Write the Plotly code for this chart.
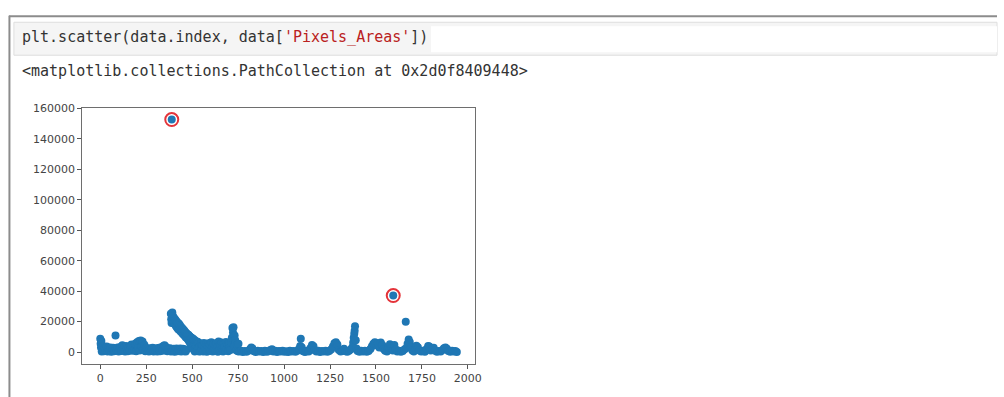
import plotly.graph_objects as go

# ---- Pixels_Areas by row index, split into stretches of the index ----
base_a_idx = [0, 2, 4, 6, 8, 12, 16, 20, 25, 30, 35, 40, 45, 50, 55, 60, 65, 70, 75, 83,
              85, 90, 95, 100, 105, 110, 115, 120, 125, 130, 135, 140, 145, 150, 155, 160,
              165, 170, 175, 180, 185, 190, 195, 200, 205, 210, 215, 220, 225, 230, 235,
              240, 245, 250, 255, 260, 265, 270, 275, 280, 285, 290, 295, 300, 305, 310,
              315, 320, 325, 330, 335, 340, 345, 350, 355, 360, 365, 370, 375, 380, 385,
              390, 395, 400, 405, 410, 415, 420, 425, 430, 435, 440, 445, 450, 455, 460,
              465, 468]
base_a_val = [8800, 5500, 3000, 7200, 300, 2400, 3800, 600, 2800, 1200, 3600, 400, 2500,
              900, 3000, 200, 2200, 2800, 500, 10900, 2400, 800, 3000, 300, 2100, 3400,
              700, 4400, 1200, 2800, 400, 4000, 2300, 600, 2900, 1000, 4200, 5000, 800,
              3200, 1300, 5400, 600, 6400, 2600, 7200, 1000, 7600, 3600, 7000, 1500, 4800,
              500, 2600, 900, 2200, 300, 2500, 700, 1900, 2800, 400, 2100, 800, 2500, 300,
              2000, 2900, 600, 2300, 3400, 900, 4200, 4500, 1200, 3200, 500, 2100, 800,
              2500, 300, 2000, 700, 2200, 200, 1800, 2400, 500, 1900, 800, 2300, 300, 1700,
              2100, 600, 1800, 400, 1400]

curve_idx = [384, 386, 388, 390, 392, 394, 397, 400, 403, 406, 409, 412, 415, 418, 421,
             424, 427, 430, 433, 436, 439, 442, 445, 448, 451, 454, 457, 460, 463, 466,
             469, 472, 475, 478, 481, 484, 487, 490, 493, 496, 499, 502, 505, 508, 511,
             514, 517, 520, 523, 526, 529, 532, 535, 538]
curve_val = [25200, 21500, 19000, 24200, 25900, 20200, 23400, 19400, 22200, 18200, 21200,
             17000, 20200, 16000, 19300, 15000, 18700, 14500, 17700, 13600, 16700, 13000,
             15800, 12000, 15000, 11300, 14200, 10500, 13200, 9600, 12400, 9000, 11700,
             8000, 11200, 7000, 10400, 5800, 9700, 4400, 9200, 3000, 8700, 1600, 8000, 400,
             7400, 3600, 7000, 900, 6700, 2300, 6300, 300]

band_idx = [540, 544, 548, 552, 556, 560, 564, 568, 572, 576, 580, 584, 588, 592, 596,
            600, 604, 608, 612, 616, 620, 624, 628, 632, 636, 640, 644, 648, 652, 656,
            660, 664, 668, 672, 676, 680, 684, 688, 692, 696, 700, 704, 708, 712, 716,
            719, 722, 725, 728, 731, 734, 737, 740, 744, 748, 752]
band_val = [3500, 600, 5600, 1800, 4600, 300, 6000, 2600, 1000, 5200, 200, 4200, 5800,
            1500, 4800, 700, 6400, 2800, 300, 5400, 1900, 4400, 800, 6000, 3000, 200, 6900,
            1400, 5000, 700, 6200, 2300, 400, 5600, 3400, 1100, 6600, 2000, 5100, 500, 5900,
            2900, 1300, 6500, 9400, 15800, 12800, 16300, 3800, 10800, 7800, 6000, 1200,
            4700, 600, 5400]

base_b_idx = [756, 766, 776, 786, 796, 806, 816, 822, 828, 836, 846, 856, 866, 876, 886,
              896, 906, 916, 926, 934, 942, 952, 962, 972, 982, 992, 1002, 1012, 1022,
              1032, 1042, 1052, 1062, 1072, 1082, 1088, 1091, 1096, 1104, 1114, 1124, 1134,
              1144, 1152, 1160, 1166, 1176, 1186, 1196, 1206, 1216, 1226, 1236, 1246, 1256,
              1266, 1274, 1282, 1290, 1298, 1308, 1318, 1326, 1334, 1344, 1354, 1364, 1372,
              1376, 1379, 1382, 1384, 1386, 1390, 1394, 1400, 1410, 1420, 1430, 1440, 1450,
              1460, 1470, 1478, 1486, 1494, 1502, 1510, 1518, 1526, 1534, 1542, 1550, 1560,
              1568, 1576, 1584, 1592, 1600, 1608, 1616, 1626, 1636, 1646, 1656, 1662, 1666,
              1672, 1678, 1684, 1690, 1698, 1706, 1714, 1720, 1728, 1736, 1746, 1756, 1766,
              1776, 1784, 1790, 1798, 1806, 1814, 1822, 1832, 1842, 1852, 1862, 1870, 1878,
              1886, 1894, 1904, 1914, 1924, 1932, 1940]
base_b_val = [300, 800, 100, 700, 200, 900, 2000, 3000, 2400, 600, 100, 800, 300, 700, 100,
              900, 200, 600, 1400, 1900, 300, 800, 100, 700, 300, 900, 200, 600, 100, 800,
              300, 700, 200, 900, 2200, 4000, 8700, 3200, 600, 100, 800, 300, 2700, 4600,
              3800, 1200, 300, 800, 100, 700, 300, 900, 200, 700, 1700, 3600, 5800, 6500,
              5000, 1400, 300, 900, 2200, 600, 200, 800, 1800, 3200, 6200, 9400, 12000,
              14000, 17000, 7700, 2400, 700, 200, 800, 300, 900, 200, 700, 2000, 3800, 5400,
              6500, 4400, 5800, 3000, 6200, 4700, 2000, 800, 300, 3200, 5100, 2400, 1000,
              4600, 1700, 300, 900, 200, 700, 1800, 19850, 2700, 5400, 8200, 6600, 3200,
              1100, 300, 2100, 4100, 3200, 1000, 300, 800, 200, 2000, 4000, 3600, 1100, 2200,
              2900, 900, 200, 700, 300, 1400, 2500, 3000, 2200, 700, 200, 800, 300, 700, 100]

# the two extreme rows, ringed in red
outlier_idx = [389, 1594]
outlier_val = [152700, 37100]

x_ticks = [0, 250, 500, 750, 1000, 1250, 1500, 1750, 2000]
y_ticks = [0, 20000, 40000, 60000, 80000, 100000, 120000, 140000, 160000]

idx = base_a_idx + curve_idx + band_idx + base_b_idx + outlier_idx
val = base_a_val + curve_val + band_val + base_b_val + outlier_val


# autoscale with 5% padding on each side
def padded(v):
    lo, hi = min(v), max(v)
    pad = 0.05 * (hi - lo)
    return [lo - pad, hi + pad]


W, H = 1004, 397


def fx(p):
    return p / W


def fy(p):
    return 1 - p / H


fig = go.Figure()
fig.add_trace(go.Scatter(
    x=idx, y=val, mode="markers",
    marker=dict(color="#1f77b4", size=8, line=dict(width=0)),
    hoverinfo="skip", showlegend=False,
))
fig.add_trace(go.Scatter(
    x=outlier_idx, y=outlier_val, mode="markers",
    marker=dict(symbol="circle-open", color="#e4343a", size=13,
                line=dict(width=2, color="#e4343a")),
    hoverinfo="skip", showlegend=False,
))

axis_common = dict(
    showgrid=False, zeroline=False, showline=True, mirror=True,
    linecolor="#6e6e6e", linewidth=1.3,
    ticks="outside", ticklen=4, tickwidth=1, tickcolor="#555555",
    tickfont=dict(family="DejaVu Sans", size=11, color="#444444"),
)

fig.update_layout(
    width=W, height=H,
    margin=dict(l=0, r=0, t=0, b=0),
    paper_bgcolor="white", plot_bgcolor="white",
    xaxis=dict(domain=[fx(83), fx(478)], range=padded(idx),
               tickvals=x_ticks, ticktext=[str(t) for t in x_ticks], **axis_common),
    yaxis=dict(domain=[fy(363), fy(103.5)], range=padded(val),
               tickvals=y_ticks, ticktext=[str(t) for t in y_ticks], **axis_common),
    shapes=[
        # notebook frame
        dict(type="line", xref="paper", yref="paper", x0=fx(9), x1=1, y0=fy(10.5), y1=fy(10.5),
             line=dict(color="#8c8c8c", width=2)),
        dict(type="line", xref="paper", yref="paper", x0=fx(9.5), x1=fx(9.5), y0=fy(10), y1=0,
             line=dict(color="#8c8c8c", width=2)),
        # input cell
        dict(type="rect", xref="paper", yref="paper", x0=fx(14), x1=1, y0=fy(50), y1=fy(16.5),
             fillcolor="#f5f5f5", line=dict(color="#dedede", width=1), layer="below"),
        dict(type="rect", xref="paper", yref="paper", x0=fx(434), x1=1, y0=fy(47), y1=fy(20.5),
             fillcolor="white", line=dict(width=0), layer="below"),
    ],
    annotations=[
        dict(xref="paper", yref="paper", x=fx(20), y=fy(31), xanchor="left", yanchor="middle",
             showarrow=False,
             text="plt.scatter(data.index, data[<span style='color:#ba2121'>'Pixels_Areas'</span>])",
             font=dict(family="DejaVu Sans Mono", size=15, color="#333333")),
        dict(xref="paper", yref="paper", x=fx(20), y=fy(66.5), xanchor="left", yanchor="middle",
             showarrow=False,
             text="&lt;matplotlib.collections.PathCollection at 0x2d0f8409448&gt;",
             font=dict(family="DejaVu Sans Mono", size=15, color="#333333")),
    ],
)

fig.write_html("out.html", config={"displayModeBar": False})
